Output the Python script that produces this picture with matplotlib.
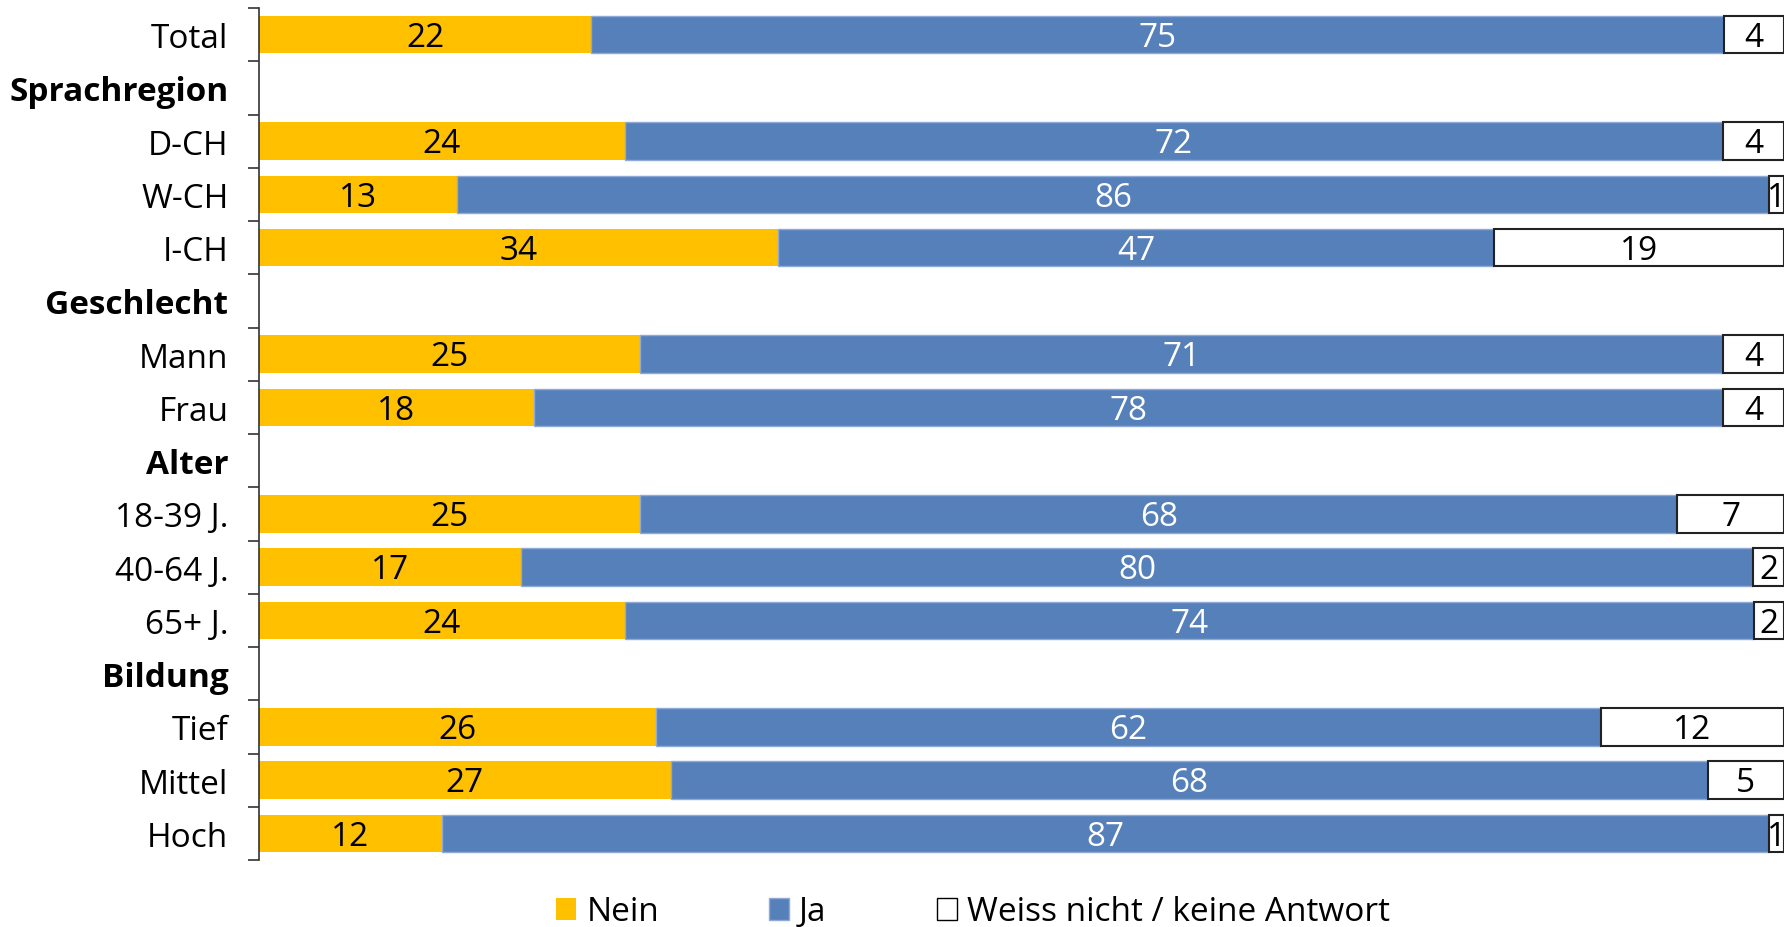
import matplotlib
matplotlib.use("Agg")
import matplotlib.pyplot as plt
import numpy as np
from matplotlib.patches import Patch

plt.rcParams['font.family'] = ['Open Sans', 'DejaVu Sans']

categories = ["Total", "Sprachregion", "D-CH", "W-CH", "I-CH", "Geschlecht", "Mann", "Frau",
              "Alter", "18-39 J.", "40-64 J.", "65+ J.", "Bildung", "Tief", "Mittel", "Hoch"]
headers = ["Sprachregion", "Geschlecht", "Alter", "Bildung"]
nein = [22, None, 24, 13, 34, None, 25, 18, None, 25, 17, 24, None, 26, 27, 12]
ja = [75, None, 72, 86, 47, None, 71, 78, None, 68, 80, 74, None, 62, 68, 87]
weiss = [4, None, 4, 1, 19, None, 4, 4, None, 7, 2, 2, None, 12, 5, 1]
series_names = ["Nein", "Ja", "Weiss nicht / keine Antwort"]

c_nein = "#FFC000"
c_ja = "#5680BA"
c_weiss = "#FFFFFF"
FS = 24

fig = plt.figure(figsize=(17.84, 9.28), dpi=100)
ax = fig.add_axes([259/1784, 1-861/928, 1-259/1784, (861-9)/928])

ypos = np.arange(len(categories))
for i, cat in enumerate(categories):
    if nein[i] is None:
        continue
    tot = nein[i] + ja[i] + weiss[i]
    a = nein[i] / tot * 100
    b = ja[i] / tot * 100
    c = weiss[i] / tot * 100
    ax.barh(i, a, left=0, height=0.7, color=c_nein, edgecolor='none')
    ax.barh(i, b, left=a, height=0.7, color=c_ja, edgecolor='#8FAAD6', linewidth=1)
    ax.barh(i, c, left=a + b, height=0.7, color=c_weiss, edgecolor='#222222', linewidth=1.5)
    ty = i + 0.05
    ax.text(a / 2, ty, str(nein[i]), ha='center', va='center', fontsize=FS, color='black')
    ax.text(a + b / 2, ty, str(ja[i]), ha='center', va='center', fontsize=FS, color='white')
    ax.text(a + b + c / 2, ty, str(weiss[i]), ha='center', va='center', fontsize=FS, color='black')

ax.set_xlim(0, 100)
ax.set_ylim(len(categories) - 0.5, -0.5)
ax.set_yticks(ypos)
ax.set_yticklabels(categories, fontsize=FS)
for lbl in ax.get_yticklabels():
    if lbl.get_text() in headers:
        lbl.set_fontweight('bold')
ax.set_yticks(np.arange(-0.5, len(categories), 1.0), minor=True)
ax.tick_params(axis='y', which='major', length=0, pad=22)
ax.tick_params(axis='y', which='minor', length=8, width=1.2, color='#333333')
ax.set_xticks([])
for s in ['top', 'right', 'bottom']:
    ax.spines[s].set_visible(False)
ax.spines['left'].set_color('#333333')
ax.spines['left'].set_linewidth(1.2)

handles = [Patch(facecolor=c_nein, edgecolor='none'),
           Patch(facecolor=c_ja, edgecolor='#8FAAD6'),
           Patch(facecolor=c_weiss, edgecolor='black')]
fig.legend(handles, series_names, loc='center', bbox_to_anchor=(973/1784, 1-913/928),
           ncol=3, frameon=False, fontsize=FS, handlelength=0.6, handleheight=0.65,
           handletextpad=0.3, columnspacing=3.3, borderaxespad=0)

fig.savefig("out.png", dpi=100)
